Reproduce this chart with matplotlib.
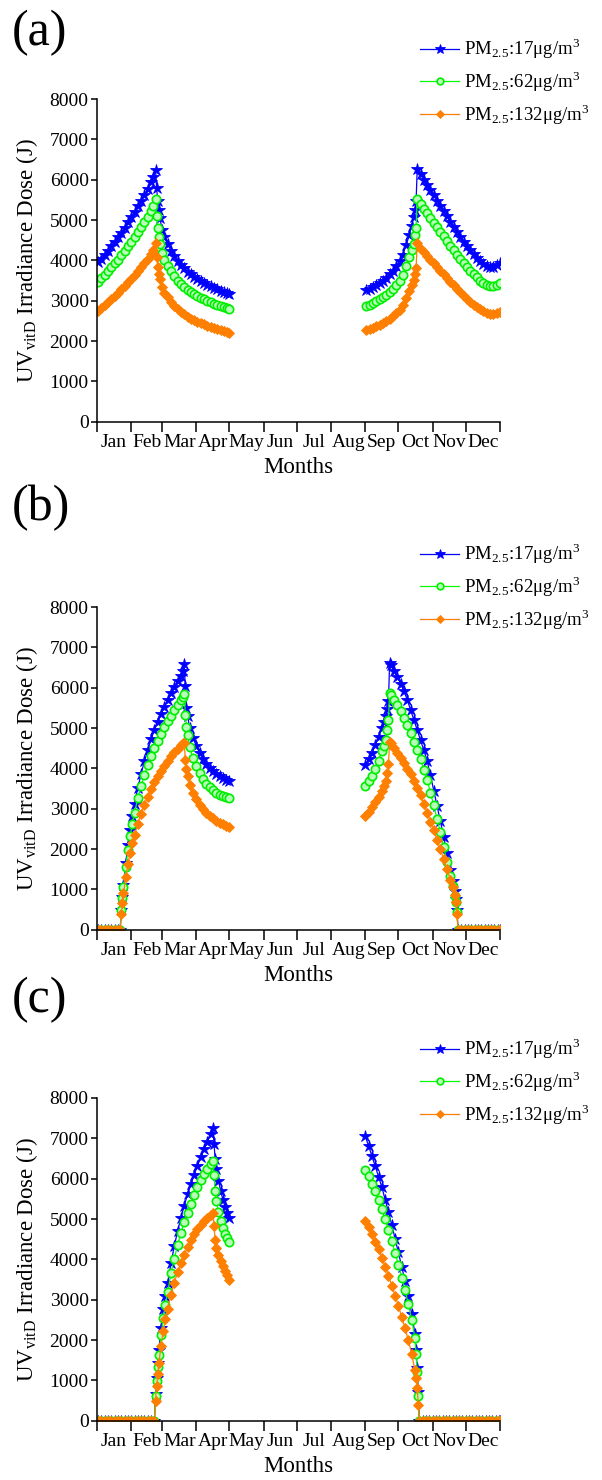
import numpy as np
import matplotlib
matplotlib.use('Agg')
import matplotlib.pyplot as plt

plt.rcParams['font.family'] = 'Liberation Serif'
plt.rcParams['mathtext.fontset'] = 'stix'

# ---------------------------------------------------------------
# axis categories
# ---------------------------------------------------------------
months      = ['Jan', 'Feb', 'Mar', 'Apr', 'May', 'Jun',
               'Jul', 'Aug', 'Sep', 'Oct', 'Nov', 'Dec']
month_start = [0, 31, 59, 90, 120, 151, 181, 212, 243, 273, 304, 334, 365]

pm_labels = ['PM$_{\\mathregular{2.5}}$:17\u03bcg/m$^{\\mathregular{3}}$',
             'PM$_{\\mathregular{2.5}}$:62\u03bcg/m$^{\\mathregular{3}}$',
             'PM$_{\\mathregular{2.5}}$:132\u03bcg/m$^{\\mathregular{3}}$']

# ---------------------------------------------------------------
# panel (a)  -- day of year / UVvitD dose (J)
# ---------------------------------------------------------------
a_spr_days  = [1, 4, 7, 10, 13, 16, 19, 22, 25, 28, 31, 34, 37, 40, 43, 46, 49, 51, 53,
               54, 55, 56, 57, 59, 61,
               64, 67, 70, 73, 76, 79, 82, 85, 88, 91, 94, 97, 100, 103, 106, 109, 112, 115, 118, 120]
a_spr_pm17  = [3950, 4040, 4140, 4240, 4350, 4460, 4570, 4690, 4810, 4940, 5070, 5200, 5340, 5480, 5630, 5780, 5940, 6070, 6250,
               5790, 5480, 5240, 5040, 4760, 4570,
               4400, 4240, 4100, 3980, 3880, 3800, 3720, 3650, 3590, 3530, 3480, 3440, 3400, 3360, 3320, 3290, 3250, 3220, 3190, 3170]
a_spr_pm62  = [3475, 3555, 3645, 3730, 3830, 3925, 4020, 4130, 4235, 4350, 4460, 4575, 4700, 4820, 4955, 5085, 5230, 5340, 5510,
               5100, 4800, 4590, 4400, 4190, 4020,
               3870, 3730, 3610, 3500, 3410, 3340, 3270, 3210, 3160, 3110, 3060, 3030, 2990, 2960, 2920, 2895, 2860, 2835, 2810, 2790]
a_spr_pm132 = [2750, 2820, 2890, 2960, 3040, 3120, 3200, 3280, 3370, 3460, 3550, 3640, 3740, 3835, 3940, 4045, 4160, 4250, 4420,
               4090, 3845, 3660, 3530, 3330, 3200,
               3080, 2970, 2870, 2790, 2720, 2660, 2600, 2555, 2510, 2470, 2440, 2410, 2380, 2350, 2320, 2295, 2270, 2245, 2220, 2200]

a_aut_days  = [244, 247, 250, 253, 256, 259, 262, 265, 268, 271, 274, 277, 280, 283, 285, 287, 288, 289, 290,
               293, 296, 299, 302, 305, 308, 311, 314, 317, 320, 323, 326, 329, 332, 335, 338, 341, 344, 347, 350,
               353, 356, 359, 362, 365]
a_aut_pm17  = [3260, 3300, 3340, 3390, 3440, 3500, 3570, 3650, 3740, 3850, 3980, 4140, 4380, 4640, 4860, 5080, 5260, 5460, 6260,
               6130, 6000, 5870, 5740, 5610, 5480, 5350, 5220, 5090, 4960, 4830, 4700, 4580, 4460, 4350, 4250, 4150, 4060, 3980, 3910,
               3860, 3840, 3845, 3880, 3930]
a_aut_pm62  = [2870, 2905, 2940, 2985, 3030, 3080, 3140, 3210, 3290, 3390, 3500, 3640, 3850, 4080, 4250, 4400, 4630, 4810, 5520,
               5395, 5280, 5165, 5050, 4935, 4820, 4710, 4595, 4480, 4365, 4250, 4135, 4030, 3925, 3830, 3740, 3650, 3575, 3500, 3440,
               3395, 3370, 3365, 3390, 3440]
a_aut_pm132 = [2270, 2300, 2330, 2365, 2400, 2445, 2495, 2550, 2615, 2690, 2780, 2900, 3060, 3240, 3380, 3520, 3660, 3800, 4420,
               4290, 4200, 4110, 4020, 3925, 3835, 3745, 3655, 3565, 3470, 3380, 3290, 3205, 3120, 3045, 2975, 2905, 2840, 2785, 2735,
               2690, 2665, 2660, 2690, 2730]

# ---------------------------------------------------------------
# panel (b)
# ---------------------------------------------------------------
b_spr_days  = [1, 4, 7, 10, 13, 16, 19, 21,
               22, 23, 24, 26, 28, 30, 32, 34, 37, 40, 43, 46, 49, 52, 55, 58, 61, 64, 67, 70, 73, 76, 78, 79,
               80, 81, 82, 84, 87, 90, 93, 96, 99, 102, 105, 108, 111, 114, 117, 120]
b_spr_pm17  = [0, 0, 0, 0, 0, 0, 0, 0,
               500, 820, 1120, 1650, 2100, 2480, 2820, 3120, 3520, 3870, 4180, 4460, 4720, 4950, 5160, 5350,
               5530, 5700, 5860, 6010, 6160, 6300, 6420, 6580,
               6030, 5500, 5300, 5000, 4750, 4550, 4380, 4240, 4120, 4020, 3940, 3870, 3810, 3760, 3720, 3690]
b_spr_pm62  = [0, 0, 0, 0, 0, 0, 0, 0,
               480, 780, 1060, 1560, 1970, 2320, 2630, 2900, 3260, 3570, 3840, 4080, 4300, 4500, 4690, 4860,
               5020, 5170, 5310, 5440, 5570, 5690, 5780, 5840,
               5330, 5030, 4830, 4520, 4250, 4050, 3880, 3740, 3620, 3530, 3460, 3400, 3350, 3310, 3280, 3260]
b_spr_pm132 = [0, 0, 0, 0, 0, 0, 0, 0,
               380, 650, 900, 1300, 1620, 1900, 2140, 2350, 2630, 2880, 3100, 3300, 3480, 3650, 3800, 3940,
               4070, 4190, 4300, 4400, 4490, 4570, 4620, 4640,
               4210, 3980, 3800, 3580, 3380, 3230, 3100, 2990, 2900, 2820, 2760, 2700, 2650, 2610, 2580, 2550]

b_aut_days  = [243, 246, 249, 252, 255, 258, 260, 262, 263, 264, 265,
               266, 269, 272, 275, 278, 281, 284, 287, 290, 293, 296, 299, 302, 305, 308, 311, 314, 317, 320,
               322, 324, 325, 326, 327,
               330, 333, 336, 339, 342, 345, 348, 351, 354, 357, 360, 363, 365]
b_aut_pm17  = [4090, 4220, 4380, 4570, 4780, 5000, 5150, 5300, 5480, 5660, 6600,
               6550, 6420, 6270, 6100, 5910, 5700, 5450, 5200, 4950, 4700, 4450, 4190, 3830, 3450, 3070, 2690, 2300, 1900, 1480,
               1200, 950, 760, 480, 0,
               0, 0, 0, 0, 0, 0, 0, 0, 0, 0, 0, 0, 0]
b_aut_pm62  = [3560, 3680, 3820, 3990, 4190, 4420, 4560, 4700, 4950, 5200, 5860,
               5810, 5690, 5560, 5410, 5250, 5070, 4870, 4660, 4450, 4220, 3970, 3710, 3400, 3080, 2750, 2410, 2050, 1690, 1320,
               1080, 830, 680, 450, 0,
               0, 0, 0, 0, 0, 0, 0, 0, 0, 0, 0, 0, 0]
b_aut_pm132 = [2820, 2920, 3030, 3160, 3300, 3450, 3560, 3680, 3880, 4120, 4660,
               4620, 4510, 4390, 4260, 4130, 3990, 3850, 3690, 3520, 3330, 3120, 2900, 2680, 2460, 2230, 1990, 1750, 1500, 1240,
               1060, 850, 680, 400, 0,
               0, 0, 0, 0, 0, 0, 0, 0, 0, 0, 0, 0, 0]

# ---------------------------------------------------------------
# panel (c)
# ---------------------------------------------------------------
c_spr_days  = [1, 4, 7, 10, 13, 16, 19, 22, 25, 28, 31, 34, 37, 40, 43, 46, 49, 52,
               53, 54, 55, 56, 58, 60, 62, 64, 67, 70, 73, 76, 79, 82, 85, 88, 91, 94, 97, 100, 103, 105,
               106, 107, 108, 110, 112, 114, 116, 118, 120]
c_spr_pm17  = [0, 0, 0, 0, 0, 0, 0, 0, 0, 0, 0, 0, 0, 0, 0, 0, 0, 0,
               650, 1050, 1420, 1750, 2300, 2780, 3100, 3420, 3900, 4330, 4700, 5030, 5330, 5610, 5860,
               6100, 6320, 6530, 6730, 6920, 7100, 7250,
               6850, 6500, 6250, 5950, 5700, 5480, 5300, 5150, 5030]
c_spr_pm62  = [0, 0, 0, 0, 0, 0, 0, 0, 0, 0, 0, 0, 0, 0, 0, 0, 0, 0,
               600, 980, 1320, 1620, 2120, 2540, 2880, 3180, 3650, 4020, 4350, 4650, 4920, 5160, 5380,
               5600, 5800, 5970, 6120, 6250, 6370, 6440,
               6100, 5700, 5440, 5180, 4960, 4780, 4640, 4520, 4430]
c_spr_pm132 = [0, 0, 0, 0, 0, 0, 0, 0, 0, 0, 0, 0, 0, 0, 0, 0, 0, 0,
               480, 850, 1150, 1420, 1860, 2220, 2520, 2780, 3120, 3420, 3680, 3910, 4110, 4300, 4470,
               4620, 4750, 4860, 4950, 5030, 5100, 5150,
               4820, 4490, 4290, 4100, 3950, 3830, 3710, 3600, 3500]

c_aut_days  = [243, 246, 249, 252, 255, 258, 261, 264, 267, 270, 273, 276, 279, 282, 285, 288, 289, 290, 291, 292,
               295, 298, 301, 304, 307, 310, 313, 316, 319, 322, 325, 328, 331, 334, 337, 340, 343, 346, 349,
               352, 355, 358, 361, 364, 365]
c_aut_pm17  = [7050, 6810, 6560, 6310, 6050, 5790, 5480, 5170, 4850, 4510, 4170, 3820, 3460, 3080, 2650, 2150,
               1750, 1300, 700, 0,
               0, 0, 0, 0, 0, 0, 0, 0, 0, 0, 0, 0, 0, 0, 0, 0, 0, 0, 0, 0, 0, 0, 0, 0, 0]
c_aut_pm62  = [6220, 6060, 5880, 5690, 5470, 5240, 4990, 4730, 4450, 4160, 3860, 3550, 3230, 2890, 2500, 2050,
               1650, 1200, 600, 0,
               0, 0, 0, 0, 0, 0, 0, 0, 0, 0, 0, 0, 0, 0, 0, 0, 0, 0, 0, 0, 0, 0, 0, 0, 0]
c_aut_pm132 = [4940, 4790, 4620, 4440, 4250, 4040, 3820, 3590, 3350, 3100, 2840, 2570, 2290, 2000, 1650, 1250,
               1050, 800, 380, 0,
               0, 0, 0, 0, 0, 0, 0, 0, 0, 0, 0, 0, 0, 0, 0, 0, 0, 0, 0, 0, 0, 0, 0, 0, 0]

# ---------------------------------------------------------------
# styles: blue stars, green circles, orange diamonds
# ---------------------------------------------------------------
styles = [dict(color='#0000ff', marker='*', ms=9.0, mfc='#0000ff', mec='#0000ff', mew=0.6),
          dict(color='#00ff00', marker='o', ms=6.0, mfc='#b8ffb8', mec='#00ee00', mew=1.2),
          dict(color='#ff7f00', marker='D', ms=5.2, mfc='#ff7f00', mec='#ff7f00', mew=0.6)]

panels = [('(a)', a_spr_days, a_aut_days,
           [a_spr_pm17, a_spr_pm62, a_spr_pm132], [a_aut_pm17, a_aut_pm62, a_aut_pm132]),
          ('(b)', b_spr_days, b_aut_days,
           [b_spr_pm17, b_spr_pm62, b_spr_pm132], [b_aut_pm17, b_aut_pm62, b_aut_pm132]),
          ('(c)', c_spr_days, c_aut_days,
           [c_spr_pm17, c_spr_pm62, c_spr_pm132], [c_aut_pm17, c_aut_pm62, c_aut_pm132])]

W, H = 602, 1480
fig = plt.figure(figsize=(W/100, H/100), dpi=100)

# axes top edge (px), panel tag y (px), legend top (px)
ax_tops     = [99, 607, 1098]
label_ys    = [33, 508, 1000]
legend_tops = [37, 542, 1037]

mid = (np.array(month_start[:-1]) + np.array(month_start[1:]))/2.

for k, (tag, d_spr, d_aut, v_spr, v_aut) in enumerate(panels):
    ax_h = 322.7
    ax = fig.add_axes([97/W, 1-(ax_tops[k]+ax_h)/H, 403/W, ax_h/H])

    for j in range(3):
        ax.plot(d_spr, v_spr[j], lw=0.9, label=pm_labels[j], **styles[j])
        ax.plot(d_aut, v_aut[j], lw=0.9, **styles[j])

    ax.set_xlim(0, 365)
    ax.set_ylim(0, 8000)
    ax.set_yticks(np.arange(0, 8001, 1000))

    ax.set_xticks(month_start)
    ax.set_xticklabels([])
    ax.set_xticks(mid, minor=True)
    ax.set_xticklabels(months, minor=True)

    ax.tick_params(axis='x', which='major', direction='out', length=7, width=1.1)
    ax.tick_params(axis='x', which='minor', length=0, pad=9, labelsize=14)
    ax.tick_params(axis='y', direction='out', length=4, width=1.1, labelsize=14, pad=2)

    for s in ['top', 'right']:
        ax.spines[s].set_visible(False)
    for s in ['left', 'bottom']:
        ax.spines[s].set_linewidth(1.1)

    ax.set_xlabel('Months', fontsize=16.5, labelpad=4)
    ax.set_ylabel('UV$_{\\mathregular{vitD}}$ Irradiance Dose (J)', fontsize=16.5, labelpad=7)

    leg = ax.legend(loc='upper left', bbox_to_anchor=(420/W, 1-legend_tops[k]/H),
                    bbox_transform=fig.transFigure, frameon=False, fontsize=13.5,
                    handlelength=2.1, handletextpad=0.25, labelspacing=0.45,
                    borderaxespad=0, borderpad=0, numpoints=1, markerscale=0.8)

    fig.text(12/W, 1-label_ys[k]/H, tag, fontsize=36, va='center', ha='left')

fig.savefig('out.png', dpi=100)
